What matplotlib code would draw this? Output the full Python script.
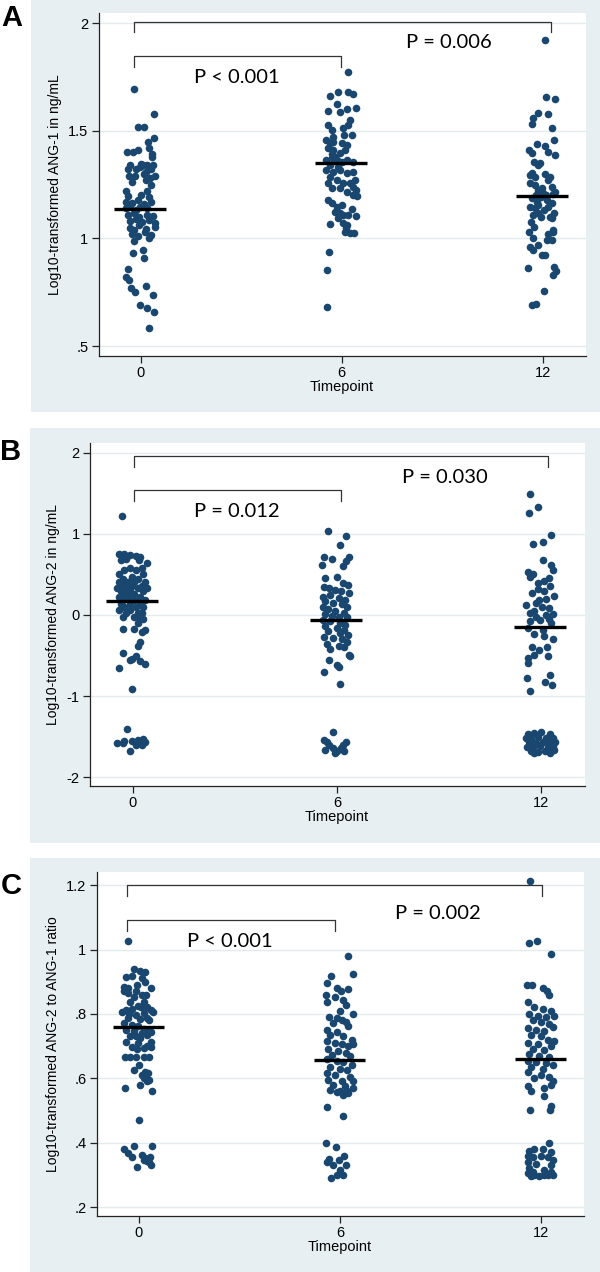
import matplotlib
matplotlib.use("Agg")
import matplotlib.pyplot as plt
from matplotlib.patches import Rectangle

W, H = 600, 1272
BG = "#e8eff2"
GRID = "#e2ebee"
NAVY = "#1a476f"
AXC = "#222222"

timepoints = [0, 6, 12]
xtick_labels = ["0", "6", "12"]
xlabel = "Timepoint"

# ---------------- Panel A: ANG-1 ----------------
A_t0 = [(-0.18,1.695),(0.40,1.576),(-0.08,1.515),(0.11,1.515),(0.41,1.467),(0.21,1.447),(0.26,1.42),
        (-0.39,1.40),(-0.23,1.40),(-0.08,1.41),(0.35,1.39),(0.33,1.38),
        (-0.30,1.34),(0.01,1.345),(0.06,1.34),(0.20,1.34),(0.37,1.34),
        (-0.37,1.32),(-0.14,1.32),(-0.02,1.33),(0.15,1.31),(0.32,1.32),
        (-0.33,1.29),(-0.17,1.29),(0.09,1.30),(0.29,1.28),(0.43,1.29),
        (-0.25,1.26),(0.15,1.27),(0.32,1.25),(-0.42,1.22),(0.20,1.22),
        (-0.37,1.195),(0.01,1.20),(0.26,1.19),
        (-0.42,1.17),(-0.25,1.165),(-0.08,1.18),(0.09,1.16),(0.32,1.17),
        (-0.42,1.14),(-0.30,1.15),(-0.14,1.13),(-0.02,1.145),(0.20,1.14),
        (-0.37,1.11),(-0.20,1.12),(-0.06,1.10),(0.20,1.11),(0.37,1.105),
        (-0.30,1.08),(-0.14,1.09),(0.03,1.075),(0.26,1.085),(0.43,1.07),
        (-0.30,1.05),(-0.19,1.04),(-0.05,1.06),(0.15,1.045),(0.43,1.055),
        (-0.25,1.02),(-0.08,1.01),(0.12,1.03),(0.32,1.015),(-0.20,0.99),(0.26,1.00),
        (-0.21,0.93),(0.08,0.946),(0.11,0.91),(-0.38,0.856),(-0.43,0.822),(-0.33,0.807),
        (-0.29,0.771),(-0.16,0.752),(0.16,0.780),(0.36,0.735),(-0.03,0.689),(0.18,0.675),
        (0.40,0.658),(0.24,0.584)]
A_t6 = [(0.18,1.774),(-0.35,1.661),(-0.10,1.680),(0.18,1.681),(0.33,1.669),
        (-0.40,1.593),(-0.15,1.622),(-0.05,1.585),(0.15,1.599),(0.43,1.605),
        (0.25,1.550),(0.20,1.526),(-0.40,1.526),(-0.30,1.503),(-0.25,1.472),
        (0.05,1.511),(0.07,1.480),(0.30,1.480),
        (-0.45,1.457),(-0.35,1.441),(-0.25,1.449),(-0.40,1.418),(-0.25,1.410),
        (0.00,1.441),(0.15,1.433),(-0.30,1.390),(-0.20,1.379),(-0.05,1.395),(0.10,1.410),
        (-0.45,1.364),(-0.30,1.372),(-0.15,1.364),(0.00,1.356),(0.15,1.364),(0.35,1.356),
        (-0.35,1.341),(-0.10,1.333),(-0.45,1.317),(-0.25,1.310),(-0.05,1.317),(0.15,1.302),
        (0.35,1.310),(-0.35,1.286),(-0.15,1.271),(0.05,1.255),(0.25,1.255),(0.40,1.271),
        (-0.40,1.255),(-0.30,1.232),(-0.05,1.232),(0.35,1.240),(0.15,1.217),(0.35,1.201),
        (-0.40,1.178),(-0.30,1.163),(-0.15,1.147),(0.00,1.155),(-0.20,1.124),(-0.05,1.116),
        (0.05,1.108),(0.20,1.108),(-0.10,1.093),(0.05,1.070),(0.15,1.062),(-0.35,1.067),
        (0.10,1.031),(0.25,1.026),(0.38,1.026),(0.45,1.195),(0.42,1.225),(0.30,1.135),
        (0.42,1.105),(0.12,1.05),
        (-0.38,0.938),(-0.42,0.853),(-0.42,0.683)]
A_t12 = [(0.07,1.921),(0.10,1.658),(0.37,1.647),(-0.13,1.584),(0.17,1.577),(-0.28,1.557),
         (-0.33,1.531),(0.27,1.512),(0.35,1.457),(-0.18,1.438),(-0.41,1.410),(-0.33,1.398),
         (0.07,1.430),(0.17,1.402),(0.37,1.387),(-0.25,1.356),(-0.13,1.341),(-0.08,1.348),
         (-0.33,1.305),(-0.38,1.294),(-0.23,1.286),(0.07,1.299),(0.22,1.286),(0.17,1.271),
         (-0.38,1.255),(-0.23,1.248),(-0.03,1.232),(-0.13,1.224),(0.27,1.240),(0.37,1.217),
         (0.00,1.21),(0.10,1.20),(-0.05,1.19),(0.30,1.205),(-0.20,1.20),
         (-0.33,1.186),(-0.18,1.170),(-0.38,1.147),(-0.23,1.139),(-0.13,1.155),(0.12,1.178),
         (0.17,1.147),(0.27,1.163),(0.05,1.13),(-0.05,1.10),(0.35,1.12),
         (-0.28,1.108),(-0.13,1.116),(0.22,1.101),(0.27,1.093),(-0.35,1.077),(-0.25,1.054),
         (-0.41,1.031),(0.32,1.039),(0.30,1.03),(0.15,1.02),(-0.30,1.00),
         (0.12,0.992),(0.27,0.992),(-0.38,0.961),(-0.28,0.946),(-0.13,0.969),(-0.03,0.923),
         (0.07,0.923),(-0.43,0.861),(0.35,0.868),(0.40,0.85),(0.30,0.830),(0.04,0.757),
         (-0.33,0.690),(-0.21,0.693)]
A_medians = [1.136, 1.351, 1.197]
A_yticks = [0.5, 1.0, 1.5, 2.0]
A_yticklabels = [".5", "1", "1.5", "2"]
A_ylabel = "Log10-transformed ANG-1 in ng/mL"
A_brackets = [(-0.19, 12.24, 2.006, 1.957), (-0.19, 5.97, 1.847, 1.797)]
A_ptexts = [(7.93, 1.908, "P = 0.006"), (1.60, 1.748, "P < 0.001")]

# ---------------- Panel B: ANG-2 ----------------
B_t0 = [(-0.33,1.215),
        (-0.42,0.75),(-0.25,0.75),(-0.08,0.74),(0.09,0.73),(0.20,0.72),
        (-0.36,0.68),(-0.19,0.69),(0.17,0.68),(0.41,0.64),
        (-0.08,0.58),(0.26,0.58),(-0.25,0.55),(0.09,0.55),(-0.42,0.50),(0.31,0.50),
        (-0.02,0.47),(-0.30,0.44),(0.15,0.44),
        (-0.42,0.40),(-0.14,0.40),(0.03,0.40),(0.37,0.40),(-0.30,0.36),(-0.02,0.36),
        (0.26,0.36),(-0.47,0.33),(-0.19,0.33),(0.15,0.33),(0.43,0.33),(-0.36,0.29),
        (-0.08,0.29),(0.31,0.29),(-0.25,0.26),(0.03,0.26),(-0.42,0.22),(-0.14,0.22),
        (0.20,0.22),(-0.30,0.19),(0.03,0.19),(0.37,0.19),
        (-0.36,0.14),(-0.08,0.14),(0.20,0.14),(-0.25,0.10),(0.09,0.10),(0.31,0.10),
        (-0.42,0.06),(-0.08,0.06),(-0.19,0.03),(0.15,0.03),(0.26,0.03),(-0.30,-0.02),
        (0.03,-0.02),(0.20,-0.05),(0.31,-0.05),(0.15,-0.10),
        (-0.28,-0.17),(0.03,-0.17),(0.35,-0.19),(0.28,-0.21),(0.20,-0.33),(0.15,-0.38),
        (-0.30,-0.47),(0.09,-0.50),(-0.08,-0.55),(-0.02,-0.54),(0.20,-0.57),(0.37,-0.60),
        (-0.42,-0.65),(-0.02,-0.91),
        (-0.16,-1.40),(-0.25,-1.55),(-0.02,-1.55),(0.15,-1.54),(0.31,-1.53),(-0.47,-1.58),
        (-0.30,-1.58),(0.20,-1.58),(0.37,-1.57),(0.26,-1.60),(0.09,-1.60),(-0.08,-1.68)]
B_t6 = [(-0.25,1.034),(0.26,0.973),(0.09,0.862),
        (-0.39,0.71),(-0.14,0.69),(0.36,0.72),(-0.43,0.61),(0.17,0.60),(0.28,0.66),
        (-0.34,0.45),(0.00,0.47),(0.17,0.39),(0.34,0.37),(-0.39,0.35),(-0.23,0.33),
        (-0.06,0.31),(0.11,0.29),(0.36,0.27),
        (-0.40,0.22),(-0.20,0.24),(0.05,0.21),(0.25,0.18),(-0.35,0.17),(-0.10,0.15),
        (0.15,0.13),(0.30,0.10),(-0.40,0.10),(-0.25,0.07),(-0.05,0.05),(0.20,0.03),
        (-0.35,0.01),(-0.15,-0.01),(0.05,-0.03),(0.30,-0.02),(-0.40,-0.06),(-0.20,-0.08),
        (0.10,-0.10),(0.25,-0.12),(-0.35,-0.14),(0.00,-0.16),(0.20,-0.18),(-0.25,-0.20),
        (0.10,-0.22),(0.33,-0.25),(-0.38,-0.27),(-0.10,-0.28),(0.15,-0.30),(0.30,-0.33),
        (-0.30,-0.36),(0.05,-0.38),(0.22,-0.40),(-0.20,-0.42),
        (-0.23,-0.55),(0.36,-0.49),(0.39,-0.51),(0.00,-0.62),(0.06,-0.64),(-0.39,-0.706),
        (0.08,-0.854),
        (-0.11,-1.44),(-0.39,-1.54),(-0.28,-1.56),(-0.23,-1.60),(-0.11,-1.64),(0.00,-1.68),
        (0.11,-1.64),(0.28,-1.56),(0.17,-1.60),(-0.34,-1.66),(-0.06,-1.70),(0.22,-1.67)]
B_t12 = [(-0.32,1.486),(-0.09,1.334),(-0.34,1.26),(0.30,0.985),(-0.23,0.874),(0.06,0.895),
         (0.06,0.677),(0.30,0.616),(0.36,0.554),(-0.37,0.53),(-0.23,0.51),(-0.32,0.47),
         (0.23,0.45),(0.10,0.42),(-0.09,0.39),(0.28,0.36),(-0.10,0.32),(-0.26,0.27),(0.08,0.29),
         (0.39,0.23),(0.15,0.20),(-0.05,0.18),(-0.43,0.12),(-0.15,0.15),(0.02,0.10),(0.23,0.08),
         (-0.20,0.05),(-0.32,0.02),(-0.15,-0.02),(0.14,0.00),(0.36,0.01),(0.25,-0.05),
         (-0.32,-0.08),(-0.03,-0.06),(0.30,-0.10),(-0.39,-0.16),(0.05,-0.18),(-0.20,-0.23),
         (0.08,-0.26),(0.36,-0.29),(-0.26,-0.39),(-0.06,-0.43),(0.17,-0.40),(-0.37,-0.53),
         (-0.20,-0.49),(0.21,-0.51),(-0.37,-0.59),(-0.41,-0.78),(0.28,-0.74),(0.11,-0.82),
         (0.33,-0.86),(-0.32,-0.94),
         (-0.39,-1.46),(-0.20,-1.45),(0.00,-1.44),(0.28,-1.47),(-0.43,-1.52),(-0.28,-1.53),
         (-0.09,-1.50),(0.14,-1.52),(0.35,-1.51),(-0.35,-1.57),(-0.15,-1.58),(0.05,-1.56),
         (0.25,-1.58),(0.40,-1.56),(-0.42,-1.62),(-0.22,-1.63),(-0.02,-1.61),(0.20,-1.62),
         (0.36,-1.63),(-0.30,-1.67),(-0.10,-1.69),(0.12,-1.67),(0.28,-1.70),(0.38,-1.66),
         (-0.20,-1.70)]
B_medians = [0.168, -0.066, -0.144]
B_yticks = [-2, -1, 0, 1, 2]
B_yticklabels = ["-2", "-1", "0", "1", "2"]
B_ylabel = "Log10-transformed ANG-2 in ng/mL"
B_brackets = [(0.035, 12.22, 1.958, 1.826), (0.035, 6.12, 1.539, 1.404)]
B_ptexts = [(7.92, 1.696, "P = 0.030"), (1.80, 1.272, "P = 0.012")]

# ---------------- Panel C: ratio ----------------
C_t0 = [(-0.32,1.028),(-0.15,0.940),(0.02,0.934),(0.17,0.930),(-0.38,0.916),(-0.21,0.919),
        (0.10,0.913),(0.19,0.900),(-0.43,0.885),(-0.32,0.880),(-0.06,0.890),(0.37,0.880),
        (-0.43,0.871),(-0.32,0.864),(-0.15,0.854),(0.08,0.859),(-0.10,0.87),(0.20,0.86),
        (-0.26,0.838),(0.14,0.838),(-0.03,0.825),(0.25,0.823),(0.05,0.82),(-0.38,0.812),
        (-0.21,0.815),(0.37,0.812),(-0.49,0.807),(-0.09,0.797),(0.14,0.802),(0.42,0.807),
        (-0.30,0.80),(-0.32,0.787),(0.02,0.783),(0.25,0.787),(0.30,0.78),(-0.43,0.771),
        (-0.21,0.766),(-0.03,0.761),(-0.38,0.750),(-0.15,0.747),(0.14,0.753),(0.37,0.745),
        (0.30,0.75),(0.10,0.74),(-0.10,0.73),(0.25,0.735),(-0.26,0.730),(0.02,0.724),
        (-0.38,0.714),(-0.03,0.709),(0.37,0.714),(-0.21,0.698),(0.14,0.695),(0.37,0.698),
        (0.25,0.70),(-0.05,0.69),(-0.41,0.665),(-0.26,0.665),(-0.09,0.665),(0.14,0.665),
        (0.31,0.665),(0.00,0.64),(-0.15,0.626),(0.19,0.621),(0.28,0.615),(0.10,0.610),
        (0.16,0.600),(0.31,0.595),(0.25,0.590),(0.02,0.579),(-0.41,0.569),(0.40,0.561),
        (-0.01,0.471),
        (-0.43,0.380),(-0.15,0.391),(0.40,0.391),(-0.32,0.367),(-0.21,0.356),(0.08,0.362),
        (0.19,0.351),(0.33,0.356),(0.14,0.346),(0.25,0.343),(0.35,0.33),(0.30,0.34),
        (-0.07,0.323)]
C_t6 = [(0.25,0.980),(0.39,0.923),(-0.26,0.918),(-0.40,0.895),(-0.09,0.880),(0.02,0.870),
        (0.23,0.877),(-0.43,0.860),(-0.15,0.854),(0.08,0.844),(-0.38,0.838),(0.17,0.828),
        (0.00,0.810),(-0.34,0.790),(-0.09,0.787),(0.39,0.800),(0.19,0.776),(-0.21,0.771),
        (0.05,0.781),(0.23,0.761),(-0.38,0.750),(-0.09,0.745),
        (-0.30,0.735),(0.10,0.73),(0.35,0.72),(-0.40,0.715),(-0.15,0.71),(0.05,0.705),
        (0.25,0.70),(0.40,0.705),(-0.35,0.69),(-0.05,0.685),(0.18,0.68),(-0.25,0.672),
        (0.30,0.67),(-0.40,0.66),(-0.10,0.655),(0.10,0.652),(0.35,0.64),(-0.30,0.635),
        (0.00,0.63),(0.20,0.625),(-0.40,0.615),(-0.15,0.61),(0.30,0.605),(-0.35,0.595),
        (0.05,0.592),(0.40,0.59),(-0.20,0.58),(0.15,0.575),(0.38,0.57),(-0.30,0.565),
        (0.00,0.56),(0.25,0.555),(0.10,0.547),(-0.09,0.556),(0.20,0.56),
        (-0.40,0.512),(0.10,0.484),
        (-0.41,0.40),(-0.11,0.385),(-0.32,0.35),(-0.38,0.34),(-0.03,0.345),(0.11,0.36),
        (0.19,0.33),(-0.20,0.33),(-0.26,0.29),(-0.09,0.30),(0.08,0.30),(0.00,0.315)]
C_t12 = [(-0.33,1.213),(-0.35,1.02),(-0.13,1.027),(0.30,0.987),(-0.41,0.89),(-0.27,0.89),
         (0.05,0.88),(0.18,0.87),(0.24,0.86),(-0.39,0.838),
         (-0.20,0.82),(0.05,0.815),(0.30,0.81),(-0.35,0.80),(-0.10,0.795),(0.15,0.79),
         (0.40,0.795),(-0.25,0.78),(0.00,0.775),(0.25,0.77),(-0.40,0.755),(-0.15,0.75),
         (0.10,0.748),(0.35,0.76),(-0.30,0.735),(0.00,0.73),(0.20,0.72),(-0.40,0.71),
         (-0.10,0.705),(0.30,0.70),(0.40,0.715),(-0.25,0.69),(0.10,0.688),(-0.35,0.675),
         (-0.05,0.67),(0.25,0.665),(-0.40,0.655),(-0.15,0.65),(0.15,0.648),(0.35,0.64),
         (-0.30,0.635),(0.05,0.63),(-0.40,0.62),(0.00,0.61),(0.25,0.605),(-0.20,0.60),
         (0.35,0.59),(-0.40,0.575),(0.10,0.57),(-0.30,0.56),(0.30,0.58),
         (0.10,0.546),(-0.33,0.50),(0.26,0.50),(0.30,0.515),
         (0.25,0.40),(-0.35,0.375),(-0.20,0.38),(0.05,0.38),(0.30,0.37),(-0.40,0.36),
         (-0.25,0.355),(0.00,0.36),(0.20,0.355),(0.35,0.345),(-0.40,0.34),(-0.15,0.335),
         (0.30,0.33),(-0.35,0.32),(-0.25,0.31),(0.10,0.315),(0.30,0.31),(-0.40,0.305),
         (-0.20,0.298),(-0.05,0.295),(0.20,0.30),(0.35,0.30),(-0.30,0.295),(0.10,0.298)]
C_medians = [0.760, 0.658, 0.661]
C_yticks = [0.2, 0.4, 0.6, 0.8, 1.0, 1.2]
C_yticklabels = [".2", ".4", ".6", ".8", "1", "1.2"]
C_ylabel = "Log10-transformed ANG-2 to ANG-1 ratio"
C_brackets = [(-0.355, 12.02, 1.2, 1.165), (-0.355, 5.84, 1.092, 1.058)]
C_ptexts = [(7.64, 1.111, "P = 0.002"), (1.45, 1.025, "P < 0.001")]

# ---------------- layout (pixels) ----------------
panels = [
    dict(letter="A", letter_xy=(12, 18), bg=(31.4, -5, 600, 411.7),
         ax=(98.7, 12.7, 585.5, 356.0), xlim=(-1.248, 13.28), ylim=(0.4536, 2.048),
         ylabel_x=55.5, xlabel_y=387,
         groups=[A_t0, A_t6, A_t12], medians=A_medians, yticks=A_yticks,
         yticklabels=A_yticklabels, ylabel=A_ylabel, brackets=A_brackets, ptexts=A_ptexts),
    dict(letter="B", letter_xy=(11, 452), bg=(29.9, 428.3, 600, 842.7),
         ax=(90.0, 443.3, 584.8, 786.0), xlim=(-1.259, 13.29), ylim=(-2.106, 2.114),
         ylabel_x=53.5, xlabel_y=816.7,
         groups=[B_t0, B_t6, B_t12], medians=B_medians, yticks=B_yticks,
         yticklabels=B_yticklabels, ylabel=B_ylabel, brackets=B_brackets, ptexts=B_ptexts),
    dict(letter="C", letter_xy=(11, 886), bg=(29.5, 857.7, 600, 1280),
         ax=(96.8, 872.3, 583.6, 1215.7), xlim=(-1.256, 13.27), ylim=(0.173, 1.240),
         ylabel_x=53.5, xlabel_y=1246.7,
         groups=[C_t0, C_t6, C_t12], medians=C_medians, yticks=C_yticks,
         yticklabels=C_yticklabels, ylabel=C_ylabel, brackets=C_brackets, ptexts=C_ptexts),
]

fig = plt.figure(figsize=(W / 100, H / 100), dpi=100)
fig.patch.set_facecolor("white")

def fx(px):
    return px / W

def fy(py):
    return 1 - py / H

for p in panels:
    x0, y0, x1, y1 = p["bg"]
    fig.add_artist(Rectangle((fx(x0), fy(y1)), fx(x1) - fx(x0), fy(y0) - fy(y1),
                             transform=fig.transFigure, facecolor=BG, edgecolor="none", zorder=0))
    l, t, r, b = p["ax"]
    ax = fig.add_axes([fx(l), fy(b), fx(r) - fx(l), fy(t) - fy(b)])
    ax.set_facecolor("white")
    ax.set_xlim(*p["xlim"])
    ax.set_ylim(*p["ylim"])
    for s in ["top", "right"]:
        ax.spines[s].set_visible(False)
    for s in ["left", "bottom"]:
        ax.spines[s].set_color(AXC)
        ax.spines[s].set_linewidth(0.9)
    ax.set_yticks(p["yticks"])
    ax.set_yticklabels(p["yticklabels"], fontfamily="Liberation Sans", fontsize=10.5)
    ax.set_xticks(timepoints)
    ax.set_xticklabels(xtick_labels, fontfamily="Liberation Sans", fontsize=10.5)
    ax.tick_params(axis="both", direction="out", length=5, width=0.9, color=AXC, pad=2.5)
    ax.set_axisbelow(True)
    ax.yaxis.grid(True, color=GRID, linewidth=1.0)

    for tp, grp, med in zip(timepoints, p["groups"], p["medians"]):
        xs = [tp + d for d, v in grp]
        ys = [v for d, v in grp]
        ax.scatter(xs, ys, s=30, color=NAVY, linewidths=0, zorder=3)
        ax.plot([tp - 0.78, tp + 0.75], [med, med], color="black", lw=2.4,
                solid_capstyle="butt", zorder=4)

    for xa, xb, ytop, yleg in p["brackets"]:
        ax.plot([xa, xa, xb, xb], [yleg, ytop, ytop, yleg], color="#333333", lw=0.9,
                clip_on=False, zorder=2)
    for xt, yt, s in p["ptexts"]:
        ax.text(xt, yt, s, ha="left", va="center", fontsize=14.5, fontfamily="Lato", color="black")

    fig.text(fx(p["ylabel_x"]), fy((t + b) / 2), p["ylabel"],
             rotation=90, ha="center", va="center", fontsize=10, fontfamily="Liberation Sans")
    cx = fx(l) + (6 - p["xlim"][0]) / (p["xlim"][1] - p["xlim"][0]) * (fx(r) - fx(l))
    fig.text(cx, fy(p["xlabel_y"]), xlabel, ha="center", va="center", fontsize=10.5,
             fontfamily="Liberation Sans")
    lx, ly = p["letter_xy"]
    fig.text(fx(lx), fy(ly), p["letter"], ha="center", va="center", fontsize=21,
             fontweight="bold", fontfamily="Liberation Sans")

fig.savefig("out.png", dpi=100, facecolor="white")
